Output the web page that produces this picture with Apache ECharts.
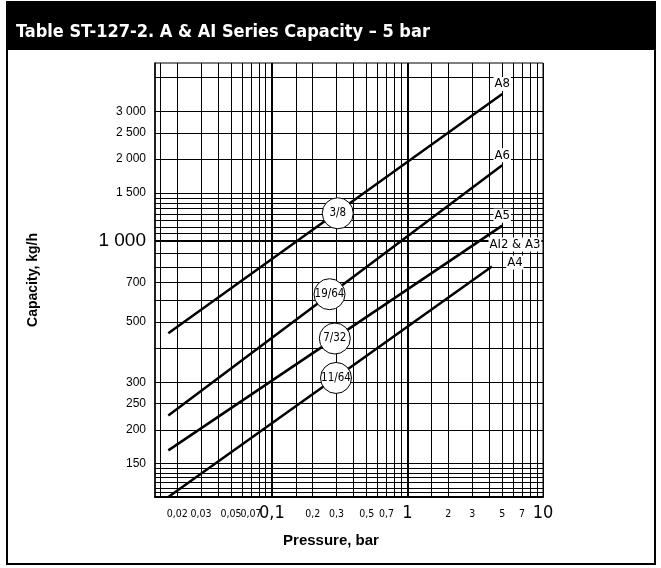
<!DOCTYPE html>
<html>
<head>
<meta charset="utf-8">
<script src="https://cdn.jsdelivr.net/npm/echarts@6/dist/echarts.min.js"></script>
<style>
  html, body { margin: 0; padding: 0; background: #fff; }
  #chart { width: 661px; height: 568px; }
</style>
</head>
<body>
<div id="chart"></div>
<script>
// lines (pressure bar -> capacity kg/h)
var lineNames = ['A8', 'A6', 'A5', 'A4'];
var startP = [0.0172, 0.0172, 0.0172, 0.0172];
var startQ = [455, 226, 168, 113];
var endP = [5, 5, 5, 4.2];
var endQ = [3480, 1900, 1136, 802];

// orifice circles sitting on the lines
var orificeNames = ['3/8', '19/64', '7/32', '11/64'];
var orificeP = [0.306, 0.266, 0.291, 0.297];
var orificeQ = [1262, 634, 435, 311];

// end tags
var tagNames = ['A8', 'A6', 'A5', 'AI2 & A3', 'A4'];
var tagLine = [0, 1, 2, 3, 3];

// grid + tick labels
var xGrid = [0.015, 0.02, 0.03, 0.04, 0.05, 0.06, 0.07, 0.08, 0.09, 0.1, 0.15, 0.2, 0.3, 0.4, 0.5, 0.6, 0.7, 0.8, 0.9,
  1, 1.5, 2, 3, 4, 5, 6, 7, 8, 9, 10];
var xLabelValues = [0.02, 0.03, 0.05, 0.07, 0.1, 0.2, 0.3, 0.5, 0.7, 1, 2, 3, 5, 7, 10];
var xLabelBig = [0.1, 1, 10];
var yGrid = [117.5, 122, 128.5, 133.5, 138.5, 144, 150, 200, 250, 300, 400, 500, 600, 700, 800, 900, 1000,
  1062.5, 1125, 1187.5, 1250, 1312.5, 1375, 1437.5, 1500, 2000, 2500, 3000, 4000];
var yLabelValues = [150, 200, 250, 300, 500, 700, 1000, 1500, 2000, 2500, 3000];
var yLabelBig = [1000];
var boldX = [0.1, 1];
var boldY = [1000];

// no narrow fonts installed -> ask canvas for the condensed face via font-stretch
var cond = "'DejaVu Sans', sans-serif";
var arial = "'Liberation Sans', Arial, sans-serif";

function near(a, b) { return Math.abs(a - b) < b * 1e-6; }
function isIn(v, arr) {
  for (var i = 0; i < arr.length; i++) if (near(v, arr[i])) return true;
  return false;
}
function xFmt(v) {
  var s = String(+v.toPrecision(6)).replace('.', ',');
  return isIn(v, xLabelBig) ? '{b|' + s + '}' : '{s|' + s + '}';
}
function yFmt(v) {
  var n = Math.round(v);
  var s = n >= 1000 ? Math.floor(n / 1000) + ' ' + String(n % 1000).padStart(3, '0') : String(n);
  return isIn(v, yLabelBig) ? '{b|' + s + '}' : '{s|' + s + '}';
}

var myChart = echarts.init(document.getElementById('chart'));

var series = [];
for (var i = 0; i < lineNames.length; i++) {
  series.push({
    name: lineNames[i],
    type: 'line',
    data: [[startP[i], startQ[i]], [endP[i], endQ[i]]],
    symbol: 'none',
    lineStyle: { color: '#000', width: 2.5 },
    z: 3,
    silent: true
  });
}
// bold reference lines
series[0].markLine = {
  silent: true,
  symbol: 'none',
  label: { show: false },
  lineStyle: { color: '#000', width: 2, type: 'solid' },
  z: 2,
  data: boldX.map(function (v) { return { xAxis: v }; })
    .concat(boldY.map(function (v) { return { yAxis: v }; }))
};

var tagOffsets = [[0, -10], [0, -10], [0, -10], [23, -22], [23, -4]];
series.push({
  type: 'scatter',
  symbolSize: 1,
  itemStyle: { color: 'rgba(0,0,0,0)', opacity: 1 },
  z: 4,
  silent: true,
  data: tagNames.map(function (n, k) {
    var li = tagLine[k];
    return {
      value: [endP[li], endQ[li]],
      label: {
        show: true,
        position: 'inside',
        offset: tagOffsets[k],
        formatter: n,
        color: '#000',
        textBorderWidth: 0,
        fontFamily: cond,
        fontWeight: 'condensed',
        fontSize: 13,
        backgroundColor: '#fff',
        padding: [1, 1, 0, 1]
      }
    };
  })
});

series.push({
  type: 'scatter',
  symbol: 'circle',
  symbolSize: 31,
  z: 5,
  silent: true,
  itemStyle: { color: '#fff', borderColor: '#000', borderWidth: 1, opacity: 1 },
  label: {
    show: true,
    position: 'inside',
    color: '#000',
    textBorderWidth: 0,
    fontFamily: cond,
    fontWeight: 'condensed',
    fontSize: 11.5,
    formatter: function (p) { return orificeNames[p.dataIndex]; }
  },
  data: orificeP.map(function (p, k) { return [p, orificeQ[k]]; })
});

var option = {
  animation: false,
  backgroundColor: '#fff',
  grid: {
    left: 155, right: 118, top: 63, bottom: 71,
    show: true, borderColor: '#000', borderWidth: 1
  },
  xAxis: {
    type: 'log',
    logBase: 10,
    min: 0.01372,
    max: 10,
    axisLine: { show: true, onZero: false, lineStyle: { color: '#000', width: 2 } },
    axisTick: { show: false, customValues: xGrid },
    splitLine: { show: true, lineStyle: { color: '#000', width: 1 } },
    axisLabel: {
      customValues: xLabelValues,
      formatter: xFmt,
      margin: 23,
      verticalAlign: 'bottom',
      color: '#000',
      rich: {
        s: { fontFamily: cond, fontWeight: 'condensed', fontSize: 10.5, lineHeight: 11, color: '#000' },
        b: { fontFamily: cond, fontWeight: 'condensed', fontSize: 18, lineHeight: 14, color: '#000' }
      }
    }
  },
  yAxis: {
    type: 'log',
    logBase: 10,
    min: 113,
    max: 4530,
    axisLine: { show: true, lineStyle: { color: '#000', width: 1.5 } },
    axisTick: { show: false, customValues: yGrid },
    splitLine: { show: true, lineStyle: { color: '#000', width: 1 } },
    axisLabel: {
      customValues: yLabelValues,
      formatter: yFmt,
      margin: 9,
      color: '#000',
      rich: {
        s: { fontFamily: arial, fontSize: 12, color: '#000' },
        b: { fontFamily: arial, fontSize: 19, color: '#000' }
      }
    }
  },
  graphic: [
    { type: 'rect', z: 0, shape: { x: 7, y: 2, width: 648, height: 562 },
      style: { fill: 'none', stroke: '#000', lineWidth: 2 } },
    { type: 'rect', z: 1, shape: { x: 6, y: 2, width: 650, height: 48 },
      style: { fill: '#000' } },
    { type: 'text', z: 2, x: 16, y: 32,
      style: { text: 'Table ST-127-2. A & AI Series Capacity – 5 bar', fill: '#fff',
        font: 'bold condensed 18px ' + cond, verticalAlign: 'middle' } },
    { type: 'text', z: 2, x: 331, y: 541,
      style: { text: 'Pressure, bar', fill: '#000', font: 'bold 15px ' + arial,
        align: 'center', verticalAlign: 'middle' } },
    { type: 'text', z: 2, x: 33, y: 280, rotation: Math.PI / 2,
      style: { text: 'Capacity, kg/h', fill: '#000', font: 'bold 14px ' + arial,
        align: 'center', verticalAlign: 'middle' } }
  ],
  series: series
};

myChart.setOption(option);
</script>
</body>
</html>
